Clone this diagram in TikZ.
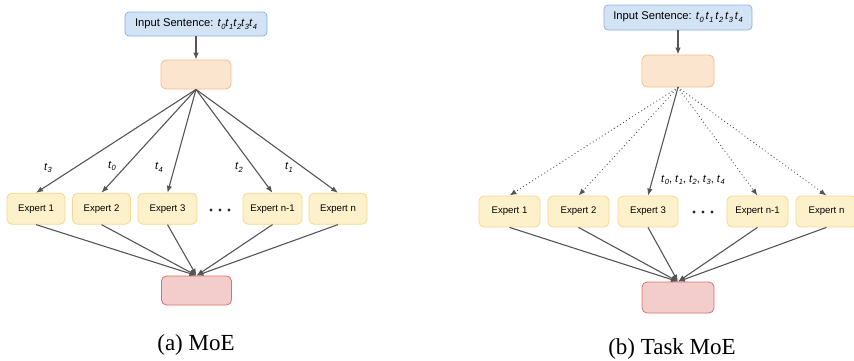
\documentclass[tikz,border=0pt]{standalone}
\usepackage{fontspec}
\setmainfont{Liberation Serif}
\setsansfont{Liberation Sans}
\usetikzlibrary{arrows.meta}

\definecolor{inFill}{HTML}{D3E3F6}
\definecolor{inLine}{HTML}{8DB2E2}
\definecolor{gateFill}{HTML}{FBE5CF}
\definecolor{gateLine}{HTML}{F2BE8A}
\definecolor{expFill}{HTML}{FDF1CC}
\definecolor{expLine}{HTML}{F4D98C}
\definecolor{outFill}{HTML}{F2CDCC}
\definecolor{outLine}{HTML}{DE6F6B}
\definecolor{wire}{HTML}{555555}

% a token t_i, italic with a lowered index
\newcommand\tok[1]{\textit{t}\kern0.2pt\raisebox{-0.5ex}{\fontsize{7.5}{8}\selectfont\textit{#1}}}

\tikzset{
  x=1pt, y=-1pt,
  inbox/.style={draw=inLine, fill=inFill, line width=0.8pt, rounded corners=4pt,
    minimum height=24pt, inner sep=0pt, font=\sffamily\fontsize{11.2}{12}\selectfont},
  gatebox/.style={draw=gateLine, fill=gateFill, line width=0.8pt, rounded corners=5pt,
    inner sep=0pt},
  expbox/.style={draw=expLine, fill=expFill, line width=0.8pt, rounded corners=5pt,
    minimum height=31pt, inner sep=0pt, font=\sffamily\fontsize{9.6}{10}\selectfont},
  outbox/.style={draw=outLine, fill=outFill, line width=0.8pt, rounded corners=5pt,
    inner sep=0pt},
  link/.style={draw=wire, line width=1.1pt, -{Latex[length=7pt,width=5.5pt]}},
  dotlink/.style={draw=wire, line width=1.3pt, line cap=round,
    dash pattern=on 0pt off 3.6pt, -{Latex[length=7pt,width=5.5pt,line cap=butt]}},
  toklabel/.style={font=\sffamily\fontsize{11}{12}\selectfont, inner sep=0pt},
  dotsep/.style={fill=black!85, circle, inner sep=0pt, minimum size=3.4pt},
  caption/.style={font=\fontsize{23}{24}\selectfont, anchor=base, inner sep=0pt}
}

\begin{document}
\begin{tikzpicture}
\useasboundingbox (0,0) rectangle (854,360);

% ---------------- (a) MoE ----------------
\node[inbox, minimum width=142pt] (inA) at (196,24) {Input Sentence: \tok{0}\tok{1}\tok{2}\tok{3}\tok{4}};
\node[gatebox, minimum width=70pt, minimum height=29pt] (gateA) at (196,74.5) {};
\node[expbox, minimum width=58pt] (a1) at (36,208.7) {Expert 1};
\node[expbox, minimum width=58pt] (a2) at (101.5,208.7) {Expert 2};
\node[expbox, minimum width=59pt] (a3) at (167.5,208.7) {Expert 3};
\node[dotsep] (dA1) at (211,210) {};
\node[dotsep] (dA2) at (220,210) {};
\node[dotsep] (dA3) at (229,210) {};
\node[expbox, minimum width=59pt] (a4) at (272.5,208.7) {Expert n-1};
\node[expbox, minimum width=58pt] (a5) at (338,208.7) {Expert n};
\node[outbox, minimum width=70pt, minimum height=29pt] (outA) at (196.5,290.5) {};

\draw[link] (inA) -- (gateA);
\foreach \e in {a1,a2,a3,a4,a5} {
  \draw[link] (gateA.south) -- (\e.north);
  \draw[link] (\e.south) -- (outA.north);
}

\node[toklabel] (lt3) at (48,168) {\tok{3}};
\node[toklabel] (lt0) at (112,166) {\tok{0}};
\node[toklabel] (lt4) at (159,167) {\tok{4}};
\node[toklabel] (lt2) at (239,167) {\tok{2}};
\node[toklabel] (lt1) at (289,167) {\tok{1}};

\node[caption] (capA) at (196,350) {(a) MoE};

% ---------------- (b) Task MoE ----------------
\node[inbox, minimum width=148pt, minimum height=25pt] (inB) at (678,17.5) {Input Sentence: \tok{0}\,\tok{1}\,\tok{2}\,\tok{3}\,\tok{4}};
\node[gatebox, minimum width=72pt, minimum height=32pt] (gateB) at (678,71) {};
\node[expbox, minimum width=61pt] (b1) at (509.5,211.5) {Expert 1};
\node[expbox, minimum width=61pt] (b2) at (578.5,211.5) {Expert 2};
\node[expbox, minimum width=60pt] (b3) at (648,211.5) {Expert 3};
\node[dotsep] (dB1) at (694,212) {};
\node[dotsep] (dB2) at (703,212) {};
\node[dotsep] (dB3) at (712,212) {};
\node[expbox, minimum width=61pt] (b4) at (757.5,211.5) {Expert n-1};
\node[expbox, minimum width=61pt] (b5) at (826.5,211.5) {Expert n};
\node[outbox, minimum width=72pt, minimum height=31pt] (outB) at (678,297.5) {};

\draw[link] (inB) -- (gateB);
\foreach \e in {b1,b2,b4,b5} {
  \draw[dotlink] (gateB.south) -- (\e.north);
}
\draw[link] (gateB.south) -- (b3.north);
\foreach \e in {b1,b2,b3,b4,b5} {
  \draw[link] (\e.south) -- (outB.north);
}

\node[toklabel, anchor=west] (ltall) at (661,180) {\tok{0}, \tok{1}, \tok{2}, \tok{3}, \tok{4}};

\node[caption] (capB) at (672,354) {(b) Task MoE};
\end{tikzpicture}
\end{document}
